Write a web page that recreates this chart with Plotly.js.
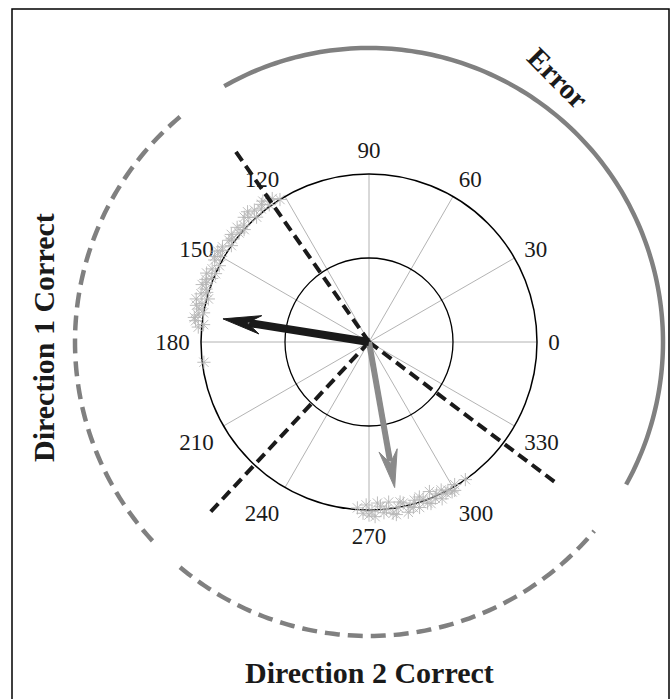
<!DOCTYPE html>
<html>
<head>
<meta charset="utf-8">
<script src="https://cdn.plot.ly/plotly-3.0.1.min.js"></script>
<style>html,body{margin:0;padding:0;background:#fff;}#chart{width:671px;height:699px;}</style>
</head>
<body>
<div id="chart"></div>
<script>
// ---------- data ----------
const angleTicks = [0, 30, 60, 90, 120, 150, 180, 210, 240, 270, 300, 330];
const angleTickLabels = ['0', '30', '60', '90', '120', '150', '180', '210', '240', '270', '300', '330'];

// sector boundaries (degrees) and their length (radial units)
const boundaryAngles = [125, 227, 323];
const boundaryLength = 1.41;

// outer region arcs: [start, end] in degrees, at radius arcRadius
const arcRadius = 1.75;
const dir1Arc = [130, 224];
const dir2Arc = [230, 320];
const errorArc = [331, 479.5];

// scatter cluster near direction 1
const theta1 = [122, 124, 126, 127, 129, 131, 132, 134, 135, 137, 139, 140, 142, 144, 145, 147, 149, 150, 152, 153, 155, 157, 158, 160, 161, 163, 164, 165, 167, 168, 170, 171, 172, 174, 175, 187, 128, 133, 138, 143, 148, 151, 156, 159, 162, 166, 169, 173];
const r1 = [1.00, 1.03, 1.01, 1.05, 1.02, 1.04, 1.00, 1.03, 1.05, 1.02, 1.04, 1.01, 1.04, 1.03, 1.00, 1.04, 1.05, 1.02, 1.04, 1.00, 1.03, 1.05, 1.01, 1.03, 1.05, 1.01, 1.04, 0.99, 1.02, 1.05, 1.00, 1.03, 1.05, 0.99, 1.02, 0.99, 1.04, 1.06, 1.00, 1.02, 1.03, 1.05, 1.00, 1.04, 1.02, 1.06, 1.03, 1.04];

// scatter cluster near direction 2
const theta2 = [266, 268, 269, 271, 272, 274, 275, 277, 278, 280, 281, 283, 284, 286, 287, 289, 290, 292, 293, 295, 296, 298, 299, 301, 305, 270, 273, 276, 279, 282, 285, 288, 291, 294, 297, 300];
const r2 = [0.99, 1.02, 0.97, 1.01, 1.04, 0.98, 1.02, 0.96, 1.03, 1.00, 0.97, 1.04, 1.01, 0.98, 1.03, 0.99, 1.02, 0.96, 1.01, 1.03, 0.98, 1.00, 1.02, 0.99, 1.00, 1.03, 0.96, 1.00, 1.04, 0.98, 1.02, 0.97, 1.03, 0.99, 1.01, 1.02];

// mean direction arrows
const arrowTheta = [171, 280];
const arrowR = [0.88, 0.88];
const arrowColors = ['#1a1a1a', '#8a8a8a'];

// ---------- geometry / style ----------
const W = 671, H = 699;
const cx = 369, cy = 342;        // pixel centre
const pxPerUnit = 168;           // pixels per radial unit
const innerMax = 1.0;
const outerMax = 1.79;           // outer overlay range (keeps arcs unclipped, fits the paper)
const serif = 'Liberation Serif, Times New Roman, serif';

function domainFor(rmax) {
  const rad = rmax * pxPerUnit;
  return {
    x: [(cx - rad) / W, (cx + rad) / W],
    y: [(H - cy - rad) / H, (H - cy + rad) / H]
  };
}

function arcTrace(a, dash, color) {
  const th = [], rr = [];
  const n = Math.ceil(Math.abs(a[1] - a[0])) + 1;
  for (let i = 0; i < n; i++) { th.push(a[0] + (a[1] - a[0]) * i / (n - 1)); rr.push(arcRadius); }
  return { type: 'scatterpolar', subplot: 'polar2', r: rr, theta: th, mode: 'lines',
    line: { color: color, width: 4.5, dash: dash }, hoverinfo: 'skip', showlegend: false };
}

function toPolar(x, y) {
  return [Math.sqrt(x * x + y * y), Math.atan2(y, x) * 180 / Math.PI];
}

const headLen = 0.225, headHalf = 0.055;
function arrowTraces(theta, r, color, width) {
  const t = theta * Math.PI / 180;
  const ux = Math.cos(t), uy = Math.sin(t);
  const px = -uy, py = ux;
  const tx = r * ux, ty = r * uy;
  const bx = tx - headLen * ux, by = ty - headLen * uy;
  const pts = [[tx, ty], [bx + headHalf * px, by + headHalf * py], [bx + 0.35 * headLen * ux, by + 0.35 * headLen * uy], [bx - headHalf * px, by - headHalf * py], [tx, ty]].map(p => toPolar(p[0], p[1]));
  return [
    { type: 'scatterpolar', subplot: 'polar2', r: [0, r - headLen * 0.7], theta: [theta, theta], mode: 'lines',
      line: { color: color, width: width }, hoverinfo: 'skip', showlegend: false },
    { type: 'scatterpolar', subplot: 'polar2', r: pts.map(p => p[0]), theta: pts.map(p => p[1]), mode: 'lines',
      fill: 'toself', fillcolor: color, line: { color: color, width: 1 }, hoverinfo: 'skip', showlegend: false }
  ];
}

const boundR = [], boundT = [];
boundaryAngles.forEach(a => { boundR.push(0, boundaryLength, null); boundT.push(a, a, null); });

const markerStyle = { symbol: 'asterisk-open', size: 11, color: '#b5b5b5', line: { color: '#b5b5b5', width: 0.9 } };

const traces = [
  // anchor trace for the inner (axis) subplot
  { type: 'scatterpolar', subplot: 'polar', r: [0], theta: [0], mode: 'markers', marker: { opacity: 0 }, hoverinfo: 'skip', showlegend: false },
  arcTrace(dir1Arc, '15px,8px', '#808080'),
  arcTrace(dir2Arc, '15px,8px', '#808080'),
  arcTrace(errorArc, 'solid', '#808080'),
  { type: 'scatterpolar', subplot: 'polar2', r: r1, theta: theta1, mode: 'markers', marker: markerStyle, hoverinfo: 'skip', showlegend: false },
  { type: 'scatterpolar', subplot: 'polar2', r: r2, theta: theta2, mode: 'markers', marker: markerStyle, hoverinfo: 'skip', showlegend: false },
  { type: 'scatterpolar', subplot: 'polar2', r: boundR, theta: boundT, mode: 'lines', connectgaps: false,
    line: { color: '#1a1a1a', width: 4, dash: '11px,6px' }, hoverinfo: 'skip', showlegend: false },
  ...arrowTraces(arrowTheta[1], arrowR[1], arrowColors[1], 6),
  ...arrowTraces(arrowTheta[0], arrowR[0], arrowColors[0], 8)
];

const d1 = domainFor(innerMax), d2 = domainFor(outerMax);

const layout = {
  width: W, height: H,
  margin: { l: 0, r: 0, t: 0, b: 0 },
  paper_bgcolor: '#ffffff',
  showlegend: false,
  dragmode: false,
  polar: {
    domain: d1,
    bgcolor: 'rgba(0,0,0,0)',
    radialaxis: { range: [0, innerMax], tickvals: [0.5], showticklabels: false, ticks: '', showline: false,
      gridcolor: '#000000', gridwidth: 1.3 },
    angularaxis: { rotation: 0, direction: 'counterclockwise', tickvals: angleTicks, ticktext: angleTickLabels,
      ticks: 'outside', ticklen: 6, tickcolor: 'rgba(0,0,0,0)', showline: true, linecolor: '#000000', linewidth: 1.5,
      gridcolor: '#a0a0a0', gridwidth: 0.8,
      tickfont: { family: serif, size: 23, color: '#1a1a1a' } }
  },
  polar2: {
    domain: d2,
    bgcolor: 'rgba(0,0,0,0)',
    radialaxis: { range: [0, outerMax], visible: false },
    angularaxis: { rotation: 0, direction: 'counterclockwise', visible: false }
  },
  shapes: [
    { type: 'rect', xref: 'paper', yref: 'paper', x0: 12 / W, x1: 669 / W, y0: -0.02, y1: 1 - 9 / H,
      line: { color: '#000000', width: 1.5 }, fillcolor: 'rgba(0,0,0,0)' }
  ],
  annotations: [
    { text: '<b>Direction 1 Correct</b>', xref: 'paper', yref: 'paper', x: 43 / W, y: 1 - 338 / H,
      xanchor: 'center', yanchor: 'middle', textangle: -90, showarrow: false,
      font: { family: serif, size: 30, color: '#1a1a1a' } },
    { text: '<b>Direction 2 Correct</b>', xref: 'paper', yref: 'paper', x: 370 / W, y: 1 - 672 / H,
      xanchor: 'center', yanchor: 'middle', showarrow: false,
      font: { family: serif, size: 30, color: '#1a1a1a' } },
    { text: '<b>Error</b>', xref: 'paper', yref: 'paper', x: 558 / W, y: 1 - 78 / H,
      xanchor: 'center', yanchor: 'middle', textangle: 45, showarrow: false,
      font: { family: serif, size: 29, color: '#1a1a1a' } }
  ]
};

Plotly.newPlot('chart', traces, layout, { staticPlot: true, displayModeBar: false });
</script>
</body>
</html>
